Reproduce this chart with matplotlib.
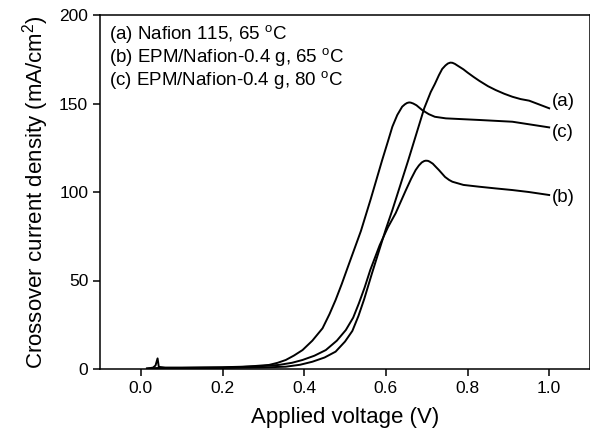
import matplotlib
matplotlib.use('Agg')
import matplotlib.pyplot as plt

plt.rcParams['font.family'] = ['Liberation Sans', 'DejaVu Sans']

# (a) Nafion 115, 65 oC
volt_a = [0.015, 0.05, 0.1, 0.2, 0.3, 0.355, 0.39, 0.42, 0.45, 0.477, 0.50, 0.518, 0.533,
          0.547, 0.566, 0.585, 0.60, 0.616, 0.655, 0.694, 0.71, 0.72, 0.73, 0.738, 0.746,
          0.752, 0.758, 0.763, 0.769, 0.775, 0.79, 0.80, 0.815, 0.829, 0.85, 0.869, 0.89,
          0.91, 0.93, 0.951, 0.975, 1.0]
curr_a = [0.2, 0.5, 0.5, 0.6, 0.9, 1.3, 2.4, 4.1, 6.5, 9.8, 15.5, 21.5, 30,
          39.5, 54, 68, 79, 89.8, 118, 147.3, 156.5, 161, 166, 169.5, 171.5,
          172.6, 173.1, 173, 172.4, 171.5, 169.3, 167.5, 165, 162.8, 159.8, 157.6, 155.5,
          153.8, 152.5, 151.6, 149.5, 147.3]

# (b) EPM/Nafion-0.4 g, 65 oC
volt_b = [0.015, 0.05, 0.1, 0.2, 0.28, 0.338, 0.37, 0.396, 0.425, 0.453, 0.48, 0.502,
          0.52, 0.534, 0.548, 0.562, 0.585, 0.605, 0.624, 0.649, 0.662, 0.673, 0.681,
          0.688, 0.694, 0.698, 0.703, 0.707, 0.715, 0.722, 0.73, 0.745, 0.755, 0.763,
          0.79, 0.828, 0.87, 0.91, 0.95, 1.0]
curr_b = [0.2, 0.6, 0.6, 0.8, 1.4, 2.3, 3.5, 5.1, 7.5, 10.7, 16, 22,
          29, 37.1, 46, 56, 70, 80, 88, 101, 107.5, 112.4, 115,
          116.7, 117.5, 117.7, 117.6, 117.2, 116, 114.3, 112.4, 108.5, 106.8, 105.8,
          104, 103, 102, 101.1, 100, 98.3]

# (c) EPM/Nafion-0.4 g, 80 oC
volt_c = [0.015, 0.03, 0.036, 0.041, 0.044, 0.06, 0.1, 0.2, 0.25, 0.28, 0.314, 0.335,
          0.355, 0.375, 0.396, 0.42, 0.445, 0.462, 0.477, 0.492, 0.506, 0.539, 0.563,
          0.591, 0.605, 0.616, 0.628, 0.64, 0.647, 0.652, 0.657, 0.661, 0.667, 0.675,
          0.689, 0.705, 0.72, 0.747, 0.828, 0.91, 1.0]
curr_c = [0.2, 0.8, 2, 6, 1.2, 0.8, 0.8, 1.0, 1.3, 1.7, 2.3, 3.5,
          5.1, 7.6, 10.7, 16, 23, 31, 39, 48, 57, 78, 96,
          118, 128.5, 136.9, 143.5, 148.2, 149.6, 150.3, 150.6, 150.5, 150, 149,
          146.3, 144, 142.5, 141.6, 140.7, 139.7, 136.5]

legend_lines = [r'(a) Nafion 115, 65 $^\mathregular{o}$C',
                r'(b) EPM/Nafion-0.4 g, 65 $^\mathregular{o}$C',
                r'(c) EPM/Nafion-0.4 g, 80 $^\mathregular{o}$C']
legend_y = [188.7, 175.7, 163]
end_labels = ['(a)', '(b)', '(c)']
end_label_y = [151, 96.9, 133.6]

fig = plt.figure(figsize=(5.9, 4.43), dpi=100)
ax = fig.add_axes([100 / 590, 1 - 369 / 443, 490 / 590, 354 / 443])

for v, c in [(volt_a, curr_a), (volt_b, curr_b), (volt_c, curr_c)]:
    ax.plot(v, c, color='black', linewidth=1.4, solid_joinstyle='round')

for txt, y in zip(legend_lines, legend_y):
    ax.text(-0.079, y, txt, fontsize=13.5, va='center', ha='left')

for txt, y in zip(end_labels, end_label_y):
    ax.text(1.006, y, txt, fontsize=13.5, va='center', ha='left')

ax.set_xlim(-0.1, 1.1)
ax.set_ylim(0, 200)
ax.set_xticks([0.0, 0.2, 0.4, 0.6, 0.8, 1.0])
ax.set_xticklabels(['0.0', '0.2', '0.4', '0.6', '0.8', '1.0'])
ax.set_yticks([0, 50, 100, 150, 200])
ax.tick_params(direction='out', length=5, width=1.1, labelsize=12.5, top=False, right=False)
for sp in ax.spines.values():
    sp.set_linewidth(1.1)

ax.set_xlabel('Applied voltage (V)', fontsize=16, labelpad=8)
ax.set_ylabel(r'Crossover current density (mA/cm$^\mathregular{2}$)', fontsize=16, labelpad=6)

fig.savefig('out.png', dpi=100)
